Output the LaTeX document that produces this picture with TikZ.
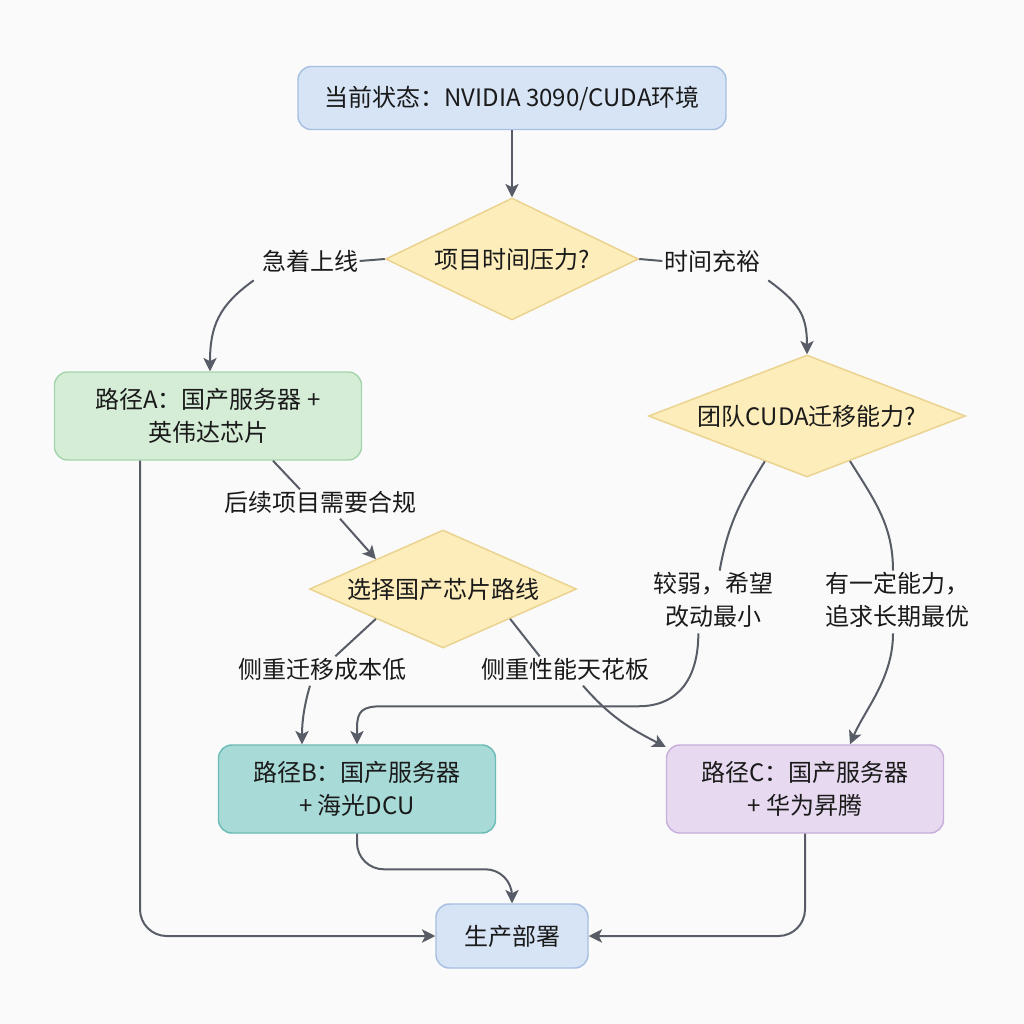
\documentclass[tikz,border=0pt]{standalone}
\usepackage{fontspec}
\setmainfont{Noto Sans CJK SC}
\usetikzlibrary{shapes.geometric,arrows.meta,calc}
\definecolor{bg}{HTML}{FAFAFA}
\definecolor{txt}{HTML}{1A1A1A}
\definecolor{ln}{HTML}{575C66}
\definecolor{blueF}{HTML}{D6E4F6}
\definecolor{blueB}{HTML}{A7BFE0}
\definecolor{greenF}{HTML}{D5EDD7}
\definecolor{greenB}{HTML}{A6D5AB}
\definecolor{diaF}{HTML}{FCEDBA}
\definecolor{diaB}{HTML}{EBD38F}
\definecolor{tealF}{HTML}{A8DBD8}
\definecolor{tealB}{HTML}{6CBBB6}
\definecolor{lilF}{HTML}{E7DAF0}
\definecolor{lilB}{HTML}{C8AEDB}
\begin{document}
\begin{tikzpicture}[x=0.75pt,y=0.75pt,
  every node/.style={text=txt, font=\fontsize{18}{25}\selectfont},
  box/.style={draw, rounded corners=10pt, line width=1.1pt, align=center, inner sep=0pt},
  dia/.style={diamond, draw=diaB, fill=diaF, line width=1.1pt, inner sep=0pt, align=center},
  lab/.style={inner sep=1pt, align=center},
  link/.style={draw=ln, line width=1.5pt},
  arr/.style={link, -{Stealth[length=10pt,width=10pt,inset=2.5pt]}}]
\fill[bg] (0,0) rectangle (1024,-1024);
\useasboundingbox (0,0) rectangle (1024,-1024);

% nodes
\node[box, fill=blueF, draw=blueB, minimum width=321pt, minimum height=47.25pt] (top) at (512,-98) {当前状态：NVIDIA 3090/CUDA环境};
\node[dia, shape aspect=2.07, minimum width=189.75pt, minimum height=91.5pt] (d1) at (512,-259) {项目时间压力?};
\node[box, fill=greenF, draw=greenB, minimum width=230.25pt, minimum height=66pt] (A) at (208,-416) {路径A：国产服务器 +\\英伟达芯片};
\node[dia, shape aspect=2.6, minimum width=237.75pt, minimum height=91.5pt] (d2) at (807,-416) {团队CUDA迁移能力?};
\node[dia, shape aspect=2.26, minimum width=200.25pt, minimum height=88.5pt] (d3) at (443,-589) {选择国产芯片路线};
\node[box, fill=tealF, draw=tealB, minimum width=207.75pt, minimum height=66pt] (B) at (357,-789) {路径B：国产服务器\\+ 海光DCU};
\node[box, fill=lilF, draw=lilB, minimum width=207.75pt, minimum height=66pt] (C) at (805,-789) {路径C：国产服务器\\+ 华为昇腾};
\node[box, fill=blueF, draw=blueB, minimum width=114pt, minimum height=48pt] (prod) at (512,-936) {生产部署};

% labels
\node[lab] (l1) at (310,-261) {急着上线};
\node[lab] (l2) at (712,-261) {时间充裕};
\node[lab] (l3) at (320,-502) {后续项目需要合规};
\node[lab] (l4) at (322,-669) {侧重迁移成本低};
\node[lab] (l5) at (565,-669) {侧重性能天花板};
\node[lab] (l6) at (713,-600) {较弱，希望\\改动最小};
\node[lab] (l7) at (897,-600) {有一定能力，\\追求长期最优};

% helper points
\coordinate (s6) at ([xshift=-11pt,yshift=-3pt]l6.south);
\coordinate (kB) at ($(B.north)+(0,38)$);

% connectors
\draw[arr] (top.south) -- (d1.north);
\draw[link] (d1.west) -- (l1.east);
\draw[arr] ([xshift=-5pt,yshift=-5pt]l1.south west) .. controls +(-35,-25) and +(0,45) .. ([xshift=1.5pt]A.north);
\draw[link] (d1.east) -- (l2.west);
\draw[arr] ([xshift=5pt,yshift=-5pt]l2.south east) .. controls +(30,-22) and +(0,40) .. (d2.north);
\draw[link] ([xshift=48.75pt]A.south) -- ([xshift=-15pt]l3.north);
\draw[arr] ([xshift=15pt,yshift=-3pt]l3.south) -- (d3.north west);
\draw[link] (d3.south west) -- ([xshift=10pt]l4.north);
\draw[arr] ([xshift=-9pt,yshift=-3pt]l4.south) .. controls +(-6,-20) and +(0,22) .. ([xshift=-41.25pt]B.north);
\draw[link] (d3.south east) -- ([xshift=-19pt]l5.north);
\draw[arr] ([xshift=13.5pt,yshift=-3pt]l5.south) .. controls +(28,-32) and +(-35,18) .. ([yshift=-2pt]C.north west);
\draw[link] ($(d2.south)!0.265!(d2.west)$) .. controls +(-25,-40) and +(8,45) .. ([xshift=5pt]l6.north);
\draw[arr] (s6) .. controls +(0,-45) and +(40,0) .. ($(s6|-kB)+(-60,0)$) -- ($(kB)+(25,0)$) .. controls ($(kB)+(5,0)$) and ($(kB)+(0,-5)$) .. ($(kB)+(0,-22)$) -- (B.north);
\draw[link] ($(d2.south)!0.27!(d2.east)$) .. controls +(25,-40) and +(0,45) .. ([xshift=-3pt]l7.north);
\draw[arr] ([xshift=-3pt,yshift=-3pt]l7.south) .. controls +(0,-45) and +(15,35) .. ([xshift=33.75pt]C.north);
\draw[arr, rounded corners=20pt] (B.south) |- ($(prod.north)+(0,34)$) -- (prod.north);
\draw[arr, rounded corners=20pt] ([xshift=-51pt]A.south) |- (prod.west);
\draw[arr, rounded corners=20pt] (C.south) |- (prod.east);
\end{tikzpicture}
\end{document}
